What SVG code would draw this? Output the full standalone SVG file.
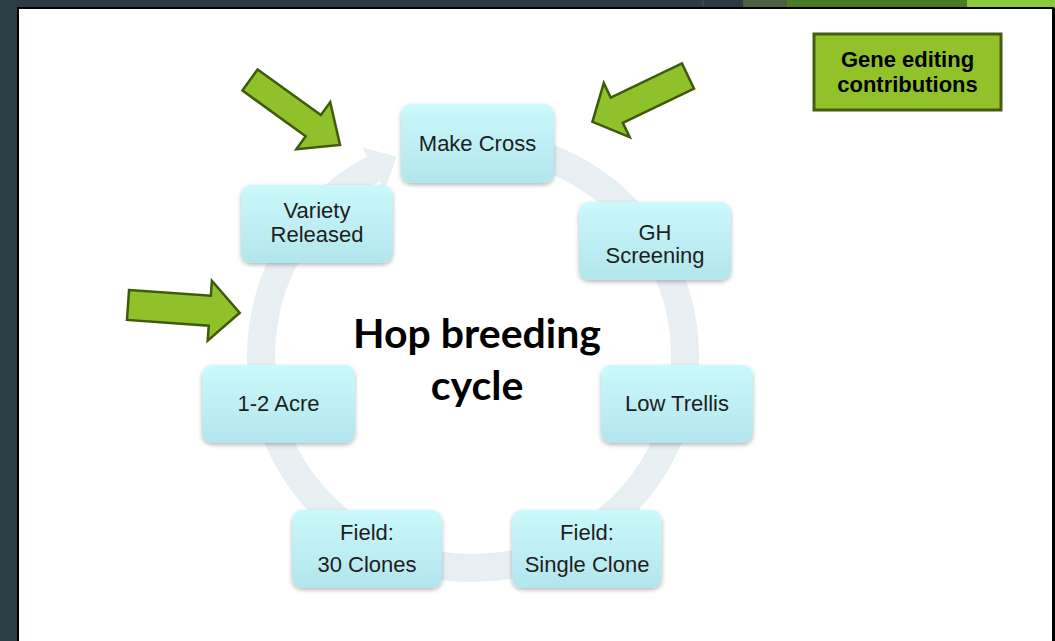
<svg xmlns="http://www.w3.org/2000/svg" width="1055" height="641" viewBox="0 0 1055 641">
<defs>
<linearGradient id="boxg" x1="0" y1="0" x2="0" y2="1">
<stop offset="0" stop-color="#cbf9fc"/>
<stop offset="1" stop-color="#b2e5ec"/>
</linearGradient>
<filter id="sh" x="-10%" y="-10%" width="125%" height="130%">
<feDropShadow dx="0" dy="2" stdDeviation="2" flood-color="#000" flood-opacity="0.28"/>
</filter>
<style>
.box{fill:url(#boxg);filter:url(#sh);}
.lbl{font-family:"Liberation Sans",Arial,sans-serif;font-size:22px;fill:#1e1e1e;text-anchor:middle;}
.garrow{fill:#8fc12a;stroke:#3f5a0c;stroke-width:2.5;stroke-linejoin:miter;}
.title{font-family:Lato,"Open Sans",sans-serif;font-weight:bold;font-size:41px;fill:#000;text-anchor:middle;}
.ge{font-family:"Liberation Sans",Arial,sans-serif;font-weight:bold;font-size:22px;fill:#000;text-anchor:middle;}
</style>
</defs>
<!-- slide background -->
<rect x="0" y="0" width="1055" height="641" fill="#2c3c44"/>
<rect x="743" y="0" width="44" height="8" fill="#4c6040"/>
<rect x="787" y="0" width="180" height="8" fill="#4a7a25"/>
<rect x="967" y="0" width="88" height="8" fill="#8dc63f"/>
<line x1="703" y1="0" x2="703" y2="8" stroke="#45555c" stroke-width="1"/>
<rect x="18" y="8" width="1035" height="640" fill="#ffffff" stroke="#000" stroke-width="2"/>
<line x1="1054" y1="8" x2="1054" y2="641" stroke="#000" stroke-width="2"/>

<!-- connectors -->
<g id="connectors">
<path d="M491.5,144.8 A212,212 0 1 1 373.5,168.8" fill="none" stroke="#e8eff3" stroke-width="28"/>
<polygon points="362.2,147.6 396.5,156.6 384.8,190" fill="#e8eff3"/>
</g>

<!-- nodes -->
<g id="make-cross">
<rect class="box" x="401" y="104" width="153" height="79" rx="10"/>
<text class="lbl" x="477.5" y="151">Make Cross</text>
</g>
<g id="gh-screening">
<rect class="box" x="579" y="202" width="152" height="78" rx="10"/>
<text class="lbl" x="655" y="240">GH</text>
<text class="lbl" x="655" y="263">Screening</text>
</g>
<g id="low-trellis">
<rect class="box" x="601" y="365" width="152" height="78" rx="10"/>
<text class="lbl" x="677" y="411">Low Trellis</text>
</g>
<g id="field-single-clone">
<rect class="box" x="512" y="510" width="150" height="78" rx="10"/>
<text class="lbl" x="587" y="540">Field:</text>
<text class="lbl" x="587" y="572">Single Clone</text>
</g>
<g id="field-30-clones">
<rect class="box" x="292" y="510" width="150" height="78" rx="10"/>
<text class="lbl" x="367" y="540">Field:</text>
<text class="lbl" x="367" y="572">30 Clones</text>
</g>
<g id="acre">
<rect class="box" x="202" y="365" width="153" height="78" rx="10"/>
<text class="lbl" x="278.5" y="411">1-2 Acre</text>
</g>
<g id="variety-released">
<rect class="box" x="241" y="185" width="152" height="78" rx="10"/>
<text class="lbl" x="317" y="218">Variety</text>
<text class="lbl" x="317" y="242">Released</text>
</g>

<g id="center-title">
<text class="title" x="477" y="348">Hop breeding</text>
<text class="title" x="477" y="400">cycle</text>
</g>

<g id="gene-editing">
<rect x="814" y="34" width="187" height="76" fill="#92c22a" stroke="#465c12" stroke-width="3"/>
<text class="ge" x="907.5" y="67">Gene editing</text>
<text class="ge" x="907.5" y="92">contributions</text>
</g>

<g id="green-arrows">
<polygon class="garrow" transform="translate(250,80) rotate(35.8)" points="0,-13 78,-13 78,-29 111,0 78,29 78,13 0,13"/>
<polygon class="garrow" transform="translate(688,76) rotate(154.4)" points="0,-14 79,-14 79,-30 106,0 79,30 79,14 0,14"/>
<polygon class="garrow" transform="translate(128,305) rotate(4)" points="0,-15 82,-15 82,-30 112,0 82,30 82,15 0,15"/>
</g>
</svg>
